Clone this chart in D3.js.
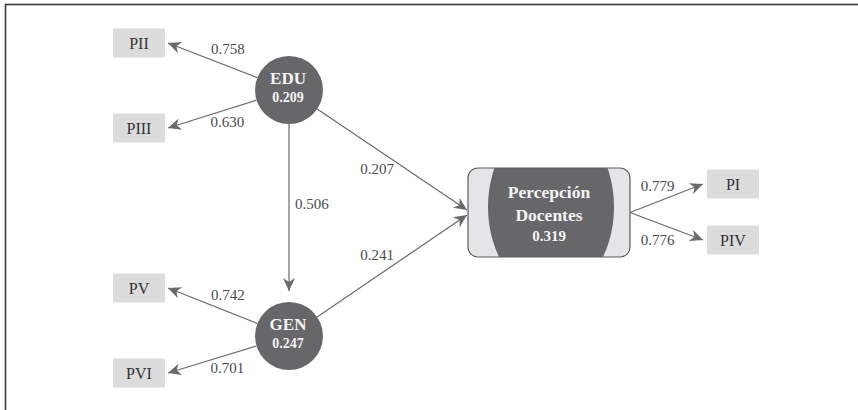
<!DOCTYPE html>
<html>
<head>
<meta charset="utf-8">
<script src="https://cdn.jsdelivr.net/npm/d3@7/dist/d3.min.js"></script>
<style>
  html, body { margin: 0; padding: 0; background: #fff; }
  svg { display: block; font-family: "Liberation Serif", "Times New Roman", serif; }
</style>
</head>
<body>
<svg id="chart" width="858" height="410"></svg>
<script>
// latent constructs and R2
var latentNames = ["EDU", "GEN", "Percepción Docentes"];
var latentValues = ["0.209", "0.247", "0.319"];

// indicators and outer loadings
var indicatorNames = ["PII", "PIII", "PV", "PVI", "PI", "PIV"];
var indicatorOf = ["EDU", "EDU", "GEN", "GEN", "Percepción Docentes", "Percepción Docentes"];
var loadings = ["0.758", "0.630", "0.742", "0.701", "0.779", "0.776"];

// structural paths
var pathFrom = ["EDU", "EDU", "GEN"];
var pathTo = ["GEN", "Percepción Docentes", "Percepción Docentes"];
var pathCoefs = ["0.506", "0.207", "0.241"];

var W = 858, H = 410;
var svg = d3.select("#chart");

// layout of the nodes (diagram positions, not data)
var xs = d3.scaleOrdinal().domain([0, 1, 2, 3]).range([139, 289, 549, 733]);
var layout = {
    "EDU": { col: 1, y: 90, r: 34 },
    "GEN": { col: 1, y: 336, r: 34 },
    "Percepción Docentes": { col: 2, y: 212.5, w: 162, h: 89 },
    "PII": { col: 0, y: 43 },
    "PIII": { col: 0, y: 128 },
    "PV": { col: 0, y: 288 },
    "PVI": { col: 0, y: 373 },
    "PI": { col: 3, y: 184 },
    "PIV": { col: 3, y: 240 }
};
var boxW = 52, boxH = 29;
var grey = "#676769", arrowGrey = "#6a6a6c";

function pos(name) { var l = layout[name]; return { x: xs(l.col), y: l.y }; }

// frame
svg.append("rect")
    .attr("x", 5.5).attr("y", 4.5)
    .attr("width", W + 20).attr("height", H + 20)
    .attr("fill", "none").attr("stroke", "#3a3a3a").attr("stroke-width", 1.6);

var defs = svg.append("defs");
defs.append("marker")
    .attr("id", "arr")
    .attr("viewBox", "-14 -7 15 14")
    .attr("refX", 0).attr("refY", 0)
    .attr("markerWidth", 15).attr("markerHeight", 14)
    .attr("markerUnits", "userSpaceOnUse")
    .attr("orient", "auto")
    .append("path")
    .attr("d", "M0,0 L-13,-6 L-9,0 L-13,6 Z")
    .attr("fill", arrowGrey);

var pr = layout["Percepción Docentes"];
var prc = pos("Percepción Docentes");
defs.append("clipPath").attr("id", "prClip")
    .append("rect")
    .attr("x", prc.x - pr.w / 2).attr("y", pr.y - pr.h / 2)
    .attr("width", pr.w).attr("height", pr.h).attr("rx", 10);

// work out where an arrow starts and ends
function edgeEnds(src, tgt, k) {
    var s = pos(src), t = pos(tgt), ls = layout[src], lt = layout[tgt];
    var tip, start;
    if (lt.w) {
        // into the big rounded box, slightly spread
        tip = { x: t.x - lt.w / 2 - 1, y: t.y + (k == 0 ? -2.5 : 2.5) };
    } else if (lt.r) {
        var dx = t.x - s.x, dy = t.y - s.y, d = Math.sqrt(dx * dx + dy * dy);
        tip = { x: t.x - dx / d * (lt.r + 11), y: t.y - dy / d * (lt.r + 11) };
    } else if (t.x < s.x) {
        tip = { x: t.x + boxW / 2 + 3, y: t.y };
    } else {
        tip = { x: t.x - boxW / 2 - 4, y: t.y };
    }
    if (ls.w) {
        start = { x: s.x + ls.w / 2, y: s.y };
    } else {
        var ex = tip.x - s.x, ey = tip.y - s.y, e = Math.sqrt(ex * ex + ey * ey);
        start = { x: s.x + ex / e * ls.r, y: s.y + ey / e * ls.r };
    }
    return { x1: start.x, y1: start.y, x2: tip.x, y2: tip.y };
}

var edges = [];
indicatorNames.forEach(function (n, i) {
    var e = edgeEnds(indicatorOf[i], n, 0);
    e.label = loadings[i];
    edges.push(e);
});
pathFrom.forEach(function (f, i) {
    var e = edgeEnds(f, pathTo[i], i - 1);
    e.label = pathCoefs[i];
    edges.push(e);
});

// label placement: fraction along the edge, offsets
var labelT = [0.33, 0.33, 0.33, 0.33, 0.38, 0.38, 0.51, 0.4, 0.4];
var labelDx = [0, 0, 0, 0, 0, 0, 6, 0, 0];
var labelDy = [-12, 18, -12, 18, -11, 22, 0, 25, -16];
var labelAnchor = ["middle", "middle", "middle", "middle", "middle", "middle", "start", "middle", "middle"];

svg.append("g").selectAll("line")
    .data(edges)
    .enter().append("line")
    .attr("x1", function (d) { return d.x1; })
    .attr("y1", function (d) { return d.y1; })
    .attr("x2", function (d) { return d.x2; })
    .attr("y2", function (d) { return d.y2; })
    .attr("stroke", arrowGrey)
    .attr("stroke-width", 1.2)
    .attr("marker-end", "url(#arr)");

svg.append("g").selectAll("text")
    .data(edges)
    .enter().append("text")
    .attr("x", function (d, i) { return d.x1 + (d.x2 - d.x1) * labelT[i] + labelDx[i]; })
    .attr("y", function (d, i) { return d.y1 + (d.y2 - d.y1) * labelT[i] + labelDy[i]; })
    .attr("text-anchor", function (d, i) { return labelAnchor[i]; })
    .attr("font-size", 15)
    .attr("fill", "#4a4a4c")
    .text(function (d) { return d.label; });

// indicator boxes
var ind = svg.append("g").selectAll("g")
    .data(indicatorNames)
    .enter().append("g");
ind.append("rect")
    .attr("x", function (d) { return pos(d).x - boxW / 2; })
    .attr("y", function (d) { return pos(d).y - boxH / 2; })
    .attr("width", boxW).attr("height", boxH)
    .attr("fill", "#dcdcdd");
ind.append("text")
    .attr("x", function (d) { return pos(d).x; })
    .attr("y", function (d) { return pos(d).y + 5.5; })
    .attr("text-anchor", "middle")
    .attr("font-size", 16)
    .attr("fill", "#333")
    .text(function (d) { return d; });

// big endogenous construct: rounded box with clipped ellipse
svg.append("rect")
    .attr("x", prc.x - pr.w / 2).attr("y", pr.y - pr.h / 2)
    .attr("width", pr.w).attr("height", pr.h).attr("rx", 10)
    .attr("fill", "#e5e5e7");
svg.append("ellipse")
    .attr("clip-path", "url(#prClip)")
    .attr("cx", prc.x + 2).attr("cy", pr.y - 5.5)
    .attr("rx", 63).attr("ry", 88)
    .attr("fill", grey);
svg.append("rect")
    .attr("x", prc.x - pr.w / 2).attr("y", pr.y - pr.h / 2)
    .attr("width", pr.w).attr("height", pr.h).attr("rx", 10)
    .attr("fill", "none").attr("stroke", "#5e5e60").attr("stroke-width", 1.2);

var words = latentNames[2].split(" ");
svg.append("text")
    .attr("x", prc.x).attr("y", 198)
    .attr("text-anchor", "middle").attr("font-weight", "bold")
    .attr("font-size", 17.5).attr("fill", "#f4f4f4")
    .text(words[0]);
svg.append("text")
    .attr("x", prc.x).attr("y", 221)
    .attr("text-anchor", "middle").attr("font-weight", "bold")
    .attr("font-size", 17.5).attr("fill", "#f4f4f4")
    .text(words[1]);
svg.append("text")
    .attr("x", prc.x).attr("y", 241)
    .attr("text-anchor", "middle").attr("font-weight", "bold")
    .attr("font-size", 15).attr("fill", "#f4f4f4")
    .text(latentValues[2]);

// exogenous constructs as circles
var lat = svg.append("g").selectAll("g")
    .data(latentNames.slice(0, 2))
    .enter().append("g");
lat.append("circle")
    .attr("cx", function (d) { return pos(d).x; })
    .attr("cy", function (d) { return layout[d].y; })
    .attr("r", function (d) { return layout[d].r; })
    .attr("fill", grey);
lat.append("text")
    .attr("x", function (d) { return pos(d).x - 1; })
    .attr("y", function (d) { return layout[d].y - 6; })
    .attr("text-anchor", "middle").attr("font-weight", "bold")
    .attr("font-size", 17).attr("fill", "#f4f4f4")
    .text(function (d) { return d; });
lat.append("text")
    .attr("x", function (d) { return pos(d).x - 1; })
    .attr("y", function (d) { return layout[d].y + 12; })
    .attr("text-anchor", "middle").attr("font-weight", "bold")
    .attr("font-size", 14).attr("fill", "#f4f4f4")
    .text(function (d, i) { return latentValues[i]; });
</script>
</body>
</html>
